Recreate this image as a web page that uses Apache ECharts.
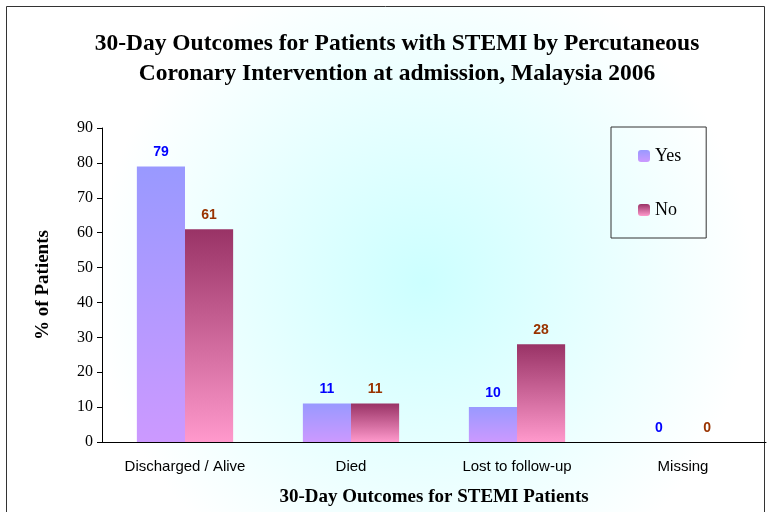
<!DOCTYPE html>
<html>
<head>
<meta charset="utf-8">
<script src="https://cdn.jsdelivr.net/npm/echarts@6/dist/echarts.min.js"></script>
<style>
html, body { margin: 0; padding: 0; background: #fff; }
#chart { width: 771px; height: 512px; }
</style>
</head>
<body>
<div id="chart"></div>
<script>
// data
var categories = ['Discharged / Alive', 'Died', 'Lost to follow-up', 'Missing'];
var yesValues = [79, 11, 10, 0];
var noValues = [61, 11, 28, 0];
var yTicks = [0, 10, 20, 30, 40, 50, 60, 70, 80, 90];

var chart = echarts.init(document.getElementById('chart'));

function grad(top, bottom) {
    return new echarts.graphic.LinearGradient(0, 0, 0, 1, [
        { offset: 0, color: top },
        { offset: 1, color: bottom }
    ]);
}

var serif = '"Liberation Serif", "Times New Roman", serif';
var sans = '"Liberation Sans", Arial, sans-serif';

var option = {
    animation: false,
    graphic: [{
        type: 'rect',
        z: -10,
        silent: true,
        shape: { x: 6.5, y: 6.5, width: 758, height: 530 },
        style: {
            fill: new echarts.graphic.RadialGradient(0.55, 0.52, 0.62, [
                { offset: 0, color: '#ccffff' },
                { offset: 1, color: '#ffffff' }
            ]),
            stroke: '#333',
            lineWidth: 1
        }
    }],
    title: {
        text: '30-Day Outcomes for Patients with STEMI by Percutaneous\nCoronary Intervention at admission, Malaysia 2006',
        left: 392,
        textAlign: 'center',
        top: 24,
        textStyle: {
            fontFamily: serif,
            fontWeight: 'bold',
            fontSize: 23.5,
            lineHeight: 30,
            color: '#000'
        }
    },
    legend: {
        orient: 'vertical',
        left: 611,
        top: 127,
        padding: [20, 25, 19, 27],
        itemGap: 36,
        itemWidth: 12,
        itemHeight: 12,
        borderColor: '#333',
        borderWidth: 1,
        textStyle: { fontFamily: serif, fontSize: 18, color: '#000' },
        data: ['Yes', 'No']
    },
    grid: { left: 102, right: 5, top: 128, bottom: 68 },
    xAxis: {
        type: 'category',
        data: categories,
        name: '30-Day Outcomes for STEMI Patients',
        nameLocation: 'middle',
        nameGap: 46,
        nameTextStyle: { fontFamily: serif, fontWeight: 'bold', fontSize: 19, color: '#000' },
        axisLine: { lineStyle: { color: '#000' } },
        axisTick: { length: 5, lineStyle: { color: '#000' } },
        axisLabel: { fontFamily: sans, fontSize: 15, color: '#000', margin: 17 }
    },
    yAxis: {
        type: 'value',
        min: 0,
        max: 90,
        interval: 10,
        name: '% of Patients',
        nameLocation: 'middle',
        nameGap: 49,
        nameTextStyle: { fontFamily: serif, fontWeight: 'bold', fontSize: 19, color: '#000' },
        splitLine: { show: false },
        axisLine: { show: true, lineStyle: { color: '#000' } },
        axisTick: { show: true, length: 5, lineStyle: { color: '#000' } },
        axisLabel: {
            fontFamily: serif, fontSize: 16, color: '#000', margin: 9,
            formatter: function (v) { return yTicks.indexOf(v) >= 0 ? String(v) : ''; }
        }
    },
    series: [
        {
            name: 'Yes',
            type: 'bar',
            data: yesValues,
            barGap: '0%',
            barCategoryGap: '42%',
            itemStyle: { color: grad('#9999ff', '#cc99ff') },
            label: {
                show: true, position: 'top', distance: 7,
                fontFamily: sans, fontWeight: 'bold', fontSize: 14, color: '#0000ff'
            }
        },
        {
            name: 'No',
            type: 'bar',
            data: noValues,
            itemStyle: { color: grad('#993366', '#ff99cc') },
            label: {
                show: true, position: 'top', distance: 7,
                fontFamily: sans, fontWeight: 'bold', fontSize: 14, color: '#993300'
            }
        }
    ]
};

chart.setOption(option);
</script>
</body>
</html>
